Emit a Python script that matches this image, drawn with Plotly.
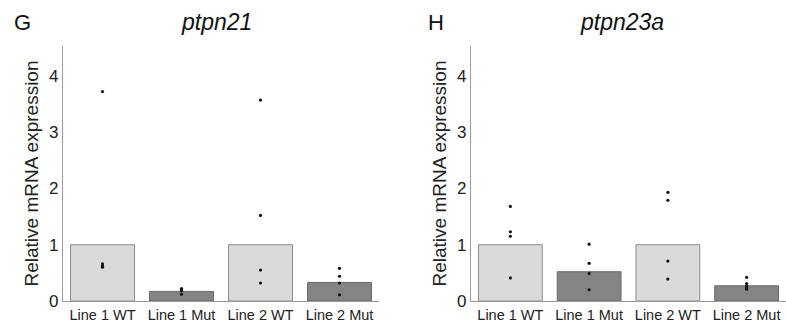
import plotly.graph_objects as go

W, H = 786, 322

categories = ["Line 1 WT", "Line 1 Mut", "Line 2 WT", "Line 2 Mut"]
panel_letters = ["G", "H"]
gene_names = ["ptpn21", "ptpn23a"]

# bar heights (mean relative expression)
bars_ptpn21 = [1.0, 0.17, 1.0, 0.33]
bars_ptpn23a = [1.0, 0.52, 1.0, 0.27]

# individual points
pts_ptpn21 = {
    "Line 1 WT": [3.72, 0.66, 0.62, 0.60],
    "Line 1 Mut": [0.22, 0.20, 0.18, 0.12],
    "Line 2 WT": [3.57, 1.52, 0.55, 0.32],
    "Line 2 Mut": [0.58, 0.44, 0.32, 0.11],
}
pts_ptpn23a = {
    "Line 1 WT": [1.68, 1.23, 1.15, 0.41],
    "Line 1 Mut": [1.01, 0.67, 0.49, 0.20],
    "Line 2 WT": [1.93, 1.79, 0.71, 0.39],
    "Line 2 Mut": [0.42, 0.31, 0.27, 0.23, 0.21],
}

wt_fill, wt_line = "#d9dadc", "#8c8c8c"
mut_fill, mut_line = "#838486", "#6a6a6a"
bar_colors = [wt_fill, mut_fill, wt_fill, mut_fill]
bar_lines = [wt_line, mut_line, wt_line, mut_line]

fig = go.Figure()

panels = [
    (bars_ptpn21, pts_ptpn21, "x", "y"),
    (bars_ptpn23a, pts_ptpn23a, "x2", "y2"),
]
for bars, pts, xa, ya in panels:
    fig.add_trace(go.Bar(
        x=categories, y=bars, width=0.81,
        marker=dict(color=bar_colors, line=dict(color=bar_lines, width=1)),
        xaxis=xa, yaxis=ya, showlegend=False, hoverinfo="skip",
    ))
    xs, ys = [], []
    for c in categories:
        for v in pts[c]:
            xs.append(c)
            ys.append(v)
    fig.add_trace(go.Scatter(
        x=xs, y=ys, mode="markers",
        marker=dict(color="#111111", size=3.2),
        xaxis=xa, yaxis=ya, showlegend=False, hoverinfo="skip",
    ))

def px_x(p):
    return p / W

def px_y(p):
    return 1 - p / H

axis_color = "#9a9a9a"
text_color = "#222222"
ydom = [px_y(301), px_y(46)]

common_x = dict(
    type="category", categoryorder="array", categoryarray=categories,
    range=[-0.5, 3.5], showline=True, linecolor=axis_color, linewidth=1.2,
    showgrid=False, zeroline=False, ticks="", automargin=False,
    tickfont=dict(family="Liberation Sans, Arial", size=14.5, color=text_color),
)
common_y = dict(
    range=[0, 4.53], showline=True, linecolor=axis_color, linewidth=1.2,
    showgrid=False, zeroline=False, ticks="", tickvals=[0, 1, 2, 3, 4],
    automargin=False,
    tickfont=dict(family="Liberation Sans, Arial", size=17, color=text_color),
    title=dict(text="Relative mRNA expression", standoff=5,
               font=dict(family="Liberation Sans, Arial", size=19, color=text_color)),
    domain=ydom,
)

fig.update_layout(
    width=W, height=H,
    margin=dict(l=0, r=0, t=0, b=0),
    paper_bgcolor="white", plot_bgcolor="white",
    bargap=0.19,
    xaxis=dict(common_x, domain=[px_x(63), px_x(379)], anchor="y"),
    yaxis=dict(common_y, anchor="x"),
    xaxis2=dict(common_x, domain=[px_x(471), px_x(786)], anchor="y2"),
    yaxis2=dict(common_y, anchor="x2"),
)

letter_x = [22, 436]
title_x = [216, 622]
for i in range(2):
    fig.add_annotation(
        x=px_x(letter_x[i]), y=px_y(22), xref="paper", yref="paper",
        text=panel_letters[i], showarrow=False, xanchor="center", yanchor="middle",
        font=dict(family="Liberation Sans, Arial", size=22, color="#111111"),
    )
    fig.add_annotation(
        x=px_x(title_x[i]), y=px_y(22), xref="paper", yref="paper",
        text="<i>" + gene_names[i] + "</i>", showarrow=False,
        xanchor="center", yanchor="middle",
        font=dict(family="Liberation Sans, Arial", size=23, color="#111111"),
    )

fig.write_html(
    "out.html",
    config={"displayModeBar": False},
    post_script="document.body.style.margin='0';document.body.style.overflow='hidden';",
)
